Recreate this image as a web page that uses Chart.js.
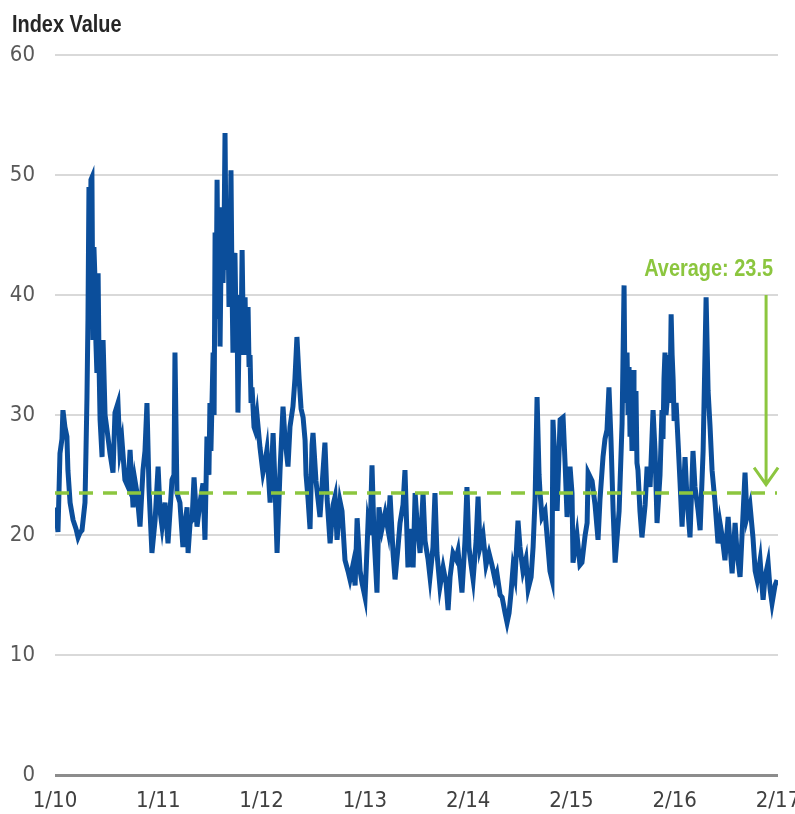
<!DOCTYPE html>
<html>
<head>
<meta charset="utf-8">
<script src="https://cdn.jsdelivr.net/npm/chart.js@4.4.1/dist/chart.umd.min.js"></script>
<style>
    html, body { margin: 0; padding: 0; background: #ffffff; }
    #box { width: 795px; height: 814px; }
</style>
</head>
<body>
<div id="box"><canvas id="indexChart"></canvas></div>
<script>
// weeks since the start of 2010
var weeks = [
    0, 1.0, 1.5, 2.5, 3.5, 4.0, 5.0, 6.0, 6.5, 7.6, 9.1, 10.6, 11.6, 12.6, 13.6, 15.1, 15.6, 16.1, 16.6, 17.1,
    17.6, 18.1, 18.6, 19.1, 19.6, 20.1, 20.6, 21.1, 21.7, 22.2, 22.7, 23.7, 24.2, 25.2, 26.2, 27.7, 29.2, 30.2, 31.7, 32.7,
    33.7, 35.2, 36.8, 37.8, 39.3, 40.3, 41.3, 42.8, 44.3, 45.3, 46.3, 47.3, 47.8, 48.8, 50.4, 51.9, 52.9, 53.9, 55.4, 56.9,
    58.9, 59.9, 60.4, 61.4, 62.9, 64.4, 65.5, 66.5, 67.0, 68.0, 69.0, 70.0, 71.5, 73.0, 74.5, 75.5,
    76.5, 77.5, 78.0, 78.5, 79.6, 80.1, 80.6, 81.1, 81.6, 82.1, 82.6, 83.1, 83.6, 84.1, 84.6, 85.1, 85.6, 86.1, 86.6, 87.1,
    87.6, 88.1, 88.6, 89.1, 89.6, 90.1, 90.6, 91.1, 91.6, 92.1, 92.6, 93.1, 93.6, 94.2, 94.7, 95.2, 95.7, 96.2, 96.7, 97.2,
    97.7, 98.2, 98.7, 99.2, 100.2, 100.7, 101.7, 103.2, 104.7, 105.7, 106.7,
    108.3, 109.8, 110.8, 111.8, 113.3, 114.8, 115.8, 117.3, 118.3, 119.8, 120.8, 121.8, 122.9, 123.9, 124.9, 125.9, 126.4, 127.4, 128.4, 129.4,
    129.9, 131.4, 132.4, 133.4, 134.4, 135.9, 137.0, 138.5, 140.0, 141.0, 142.0, 143.5, 144.5, 146.0, 147.5, 148.5, 150.0, 151.1, 152.1, 153.6,
    154.6, 156.1, 157.6, 158.6, 159.6, 160.6, 162.1, 163.1, 164.6, 166.2, 167.7, 168.7, 170.2, 171.2, 172.7, 173.7, 175.2, 176.2, 177.7, 178.7,
    180.3, 181.3, 182.3, 183.8, 185.3, 186.3, 187.8, 188.8, 190.3, 191.3, 192.3, 193.8, 195.4, 196.9, 197.9, 198.9, 200.4, 201.9, 202.9, 203.9,
    204.9, 206.4, 207.4, 208.4, 209.5, 210.5, 212.0, 213.0, 214.0, 215.5, 217.0, 218.5, 220.0, 221.5, 222.5, 224.1, 225.1, 226.6, 227.6, 228.6,
    229.6, 230.6, 231.6, 233.1, 234.1, 235.6, 237.1, 238.2, 239.7, 240.7, 241.7, 242.7, 243.7, 244.2, 245.2, 246.7, 248.2, 249.2, 250.2, 250.7,
    252.3, 252.8, 254.3, 255.8, 256.8, 257.8, 259.3, 260.3, 260.8, 262.8, 264.3, 265.3, 266.9, 267.9, 268.4, 270.4, 271.9, 273.4, 274.4, 275.9,
    276.9, 277.9, 278.9, 279.9, 281.0, 282.0, 284.0, 285.5, 286.5, 287.0, 287.5, 288.0, 288.5, 289.0, 289.5, 290.0, 290.5, 291.0, 291.5, 292.0,
    292.5, 293.0, 293.5, 294.5, 295.5, 297.1, 298.1, 299.6,
    301.1, 302.1, 303.1, 304.6, 305.6, 306.1, 306.6, 307.1, 307.6, 308.1, 308.6, 309.1, 309.6, 310.2, 310.7, 311.2, 311.7, 312.2, 312.7, 313.7,
    314.7, 315.7, 317.2, 318.2, 319.7, 321.2, 322.2, 323.8,
    324.8, 326.3, 327.8, 328.8, 329.8, 330.8, 332.3, 333.8, 334.8, 335.8, 337.3, 338.9, 339.9, 340.9, 342.4, 343.4, 344.9, 345.9, 347.4, 348.4,
    349.9, 351.4, 352.5, 353.5, 355.0, 356.5, 357.5, 359.0, 360.0, 361.0, 362.5, 363.5
];
var indexValues = [
    22.3, 21, 20.25, 26.8, 28, 30.4, 29, 28.2, 25.4, 22.7, 21.25, 20.5, 19.8, 20.2, 20.4, 22.7, 27, 31.5, 38, 49,
    42, 49.6, 49.8, 36.25, 44, 41.5, 36, 33.5, 41.8, 34, 29.6, 26.5, 36.25, 30, 28.75, 26.8, 25.2, 30.2, 31, 27,
    27.9, 24.6, 24, 27.1, 22.3, 24.5, 23.5, 20.7, 25.4, 27, 31, 24, 22.1, 18.5, 21.25, 25.7, 22, 20.7, 22.7, 19.3,
    24.6, 25, 35.2, 23.5, 22.7, 19, 21, 22.3, 18.5, 21, 21.25, 24.8, 20.7, 22.7, 24.3, 19.6,
    28.2, 25, 31, 27, 35.2, 30, 45.2, 38, 49.6, 40, 46, 35.7, 43, 47.3, 41, 45, 53.5, 44, 42.1, 46.25,
    39, 44, 50.4, 41, 35.2, 43, 43.5, 38, 40, 30.2, 36, 38, 35, 43.75, 37.9, 35, 39.8, 35, 38, 39,
    34, 35, 31, 32.3, 29, 28.75, 30, 27.3, 25.2, 26, 27.1,
    22.7, 28.5, 24, 18.5, 25.4, 30.7, 28, 25.7, 29, 30.7, 33, 36.5, 33, 30.5, 29.8, 27.9, 25, 23, 20.5, 27.5,
    28.5, 24.5, 23, 21.5, 24, 27.7, 23, 19.3, 22.5, 23.2, 19.6, 22.8, 22, 17.9, 17, 16.3, 17.5, 15.8, 21.4, 17,
    16, 14.8, 21, 20, 25.8, 20, 15.2, 22.3, 20.5, 21.8, 20.4, 23.3, 18.5, 16.3, 19, 21, 22.5, 25.4, 17.3, 20.5,
    17.3, 23.5, 21, 18.5, 23.5, 19.5, 18, 16.5, 19, 23.5, 18.5, 15.7, 17.3, 16, 13.75, 16.5, 18.5, 18, 18.7, 17,
    15.2, 19.5, 24, 19, 17.5, 16.3, 19.5, 23.2, 19, 20, 17.5, 18.5, 17.5, 16.3, 16.8, 15, 14.8, 13.5, 12.7, 13.5,
    15.2, 17.3, 16.5, 21.2, 19, 17, 18, 15.5, 16.5, 19, 23, 31.5, 25, 23.5, 21.5, 22, 19, 17, 16.3, 29.6,
    24, 22, 29.6, 29.8, 26, 21.5, 25.7, 23.5, 17.7, 20, 17.5, 17.7, 20, 21, 25.2, 24.5, 22.5, 19.6, 23, 26.5,
    28, 28.75, 32.3, 28, 22, 17.7, 22, 29.3, 40.8, 31, 33, 35.2, 30, 34, 28.2, 31, 27, 33.75, 28, 30,
    32, 26, 25.4, 22, 19.8, 22.5, 25.7, 24,
    30.4, 27, 21, 25, 30.4, 28, 33, 35.2, 30, 31, 35, 34, 31, 38.4, 35, 33, 29.5, 30.2, 31, 27.7,
    24.3, 20.7, 26.5, 23, 19.8, 27, 24, 22,
    20.4, 27, 39.8, 32, 29, 25.4, 22.7, 19.3, 21, 20, 17.9, 21.5, 19, 16.8, 21, 18.5, 16.5, 20, 25.2, 21.5,
    22.5, 19.8, 17, 16.25, 17.9, 14.6, 16.5, 17.7, 15.5, 14.3, 15.8, 16.25
];
var tickWeeks = [0, 52, 104, 156, 208, 260, 312, 364];
var tickLabels = ["1/10", "1/11", "1/12", "1/13", "2/14", "2/15", "2/16", "2/17"];
var yTicks = [0, 10, 20, 30, 40, 50, 60];
var averageValue = 23.5;
var averageText = "Average: 23.5";

var blue = "#0b4e9b";
var green = "#8cc63f";
var tickFont = "'DejaVu Sans Condensed', 'Liberation Sans', sans-serif";

function BuildPoints() {
    var points = [];
    for (let i = 0; i < weeks.length; i++) {
        points.push({ x: weeks[i], y: indexValues[i] });
    }
    return points;
}

// narrow looking bold text: squeeze Liberation Sans sideways
function NarrowText(ctx, text, x, y, align, color) {
    ctx.save();
    ctx.font = "bold 24px 'Liberation Sans', Arial, sans-serif";
    ctx.fillStyle = color;
    ctx.textAlign = align;
    ctx.textBaseline = "alphabetic";
    ctx.translate(x, y);
    ctx.scale(0.83, 1);
    ctx.fillText(text, 0, 0);
    ctx.restore();
}

// title, arrow and label drawn on top of the chart
const extras = {
    id: "extras",
    afterDatasetsDraw(chart) {
        const ctx = chart.ctx;
        const xs = chart.scales.x;
        const ys = chart.scales.y;
        NarrowText(ctx, "Index Value", 12, 32, "left", "#262626");

        var ax = xs.getPixelForValue(358);
        var top = ys.getPixelForValue(40);
        var tip = ys.getPixelForValue(24.2);
        ctx.save();
        ctx.strokeStyle = green;
        ctx.lineWidth = 3;
        ctx.beginPath();
        ctx.moveTo(ax, top);
        ctx.lineTo(ax, tip);
        ctx.moveTo(ax - 12, tip - 17);
        ctx.lineTo(ax, tip);
        ctx.lineTo(ax + 12, tip - 17);
        ctx.stroke();
        ctx.restore();

        NarrowText(ctx, averageText, xs.getPixelForValue(361.5), ys.getPixelForValue(41.6), "right", green);
    }
};

const config = {
    type: "line",
    data: {
        datasets: [{
            label: "Average",
            data: [{ x: 0, y: averageValue }, { x: 363.5, y: averageValue }],
            borderColor: green,
            borderWidth: 3.5,
            borderDash: [14, 10],
            pointRadius: 0
        }, {
            label: "Index Value",
            data: BuildPoints(),
            borderColor: blue,
            borderWidth: 5,
            pointRadius: 0,
            tension: 0
        }]
    },
    options: {
        responsive: true,
        maintainAspectRatio: false,
        animation: false,
        layout: { padding: { left: 0, right: 17, top: 55, bottom: 0 } },
        plugins: {
            legend: { display: false },
            tooltip: { enabled: false }
        },
        scales: {
            x: {
                type: "linear",
                min: 0,
                max: 364,
                afterBuildTicks: function (scale) {
                    scale.ticks = tickWeeks.map(v => ({ value: v }));
                },
                afterFit: function (scale) {
                    scale.height = 39;
                    scale.paddingLeft = 0;
                    scale.paddingRight = 0;
                },
                ticks: {
                    autoSkip: false,
                    maxRotation: 0,
                    padding: 13,
                    color: "#404040",
                    font: { family: tickFont, size: 22 },
                    callback: function (value) {
                        return tickLabels[tickWeeks.indexOf(value)];
                    }
                },
                grid: { display: false, drawTicks: false },
                border: { display: false }
            },
            y: {
                min: 0,
                max: 60,
                afterBuildTicks: function (scale) {
                    scale.ticks = yTicks.map(v => ({ value: v }));
                },
                afterFit: function (scale) {
                    scale.width = 55;
                    scale.paddingTop = 0;
                    scale.paddingBottom = 0;
                },
                ticks: {
                    padding: 20,
                    color: "#595959",
                    font: { family: tickFont, size: 22 }
                },
                grid: {
                    drawTicks: false,
                    color: c => c.tick && c.tick.value === 0 ? "#8c8c8c" : "#d9d9d9",
                    lineWidth: c => c.tick && c.tick.value === 0 ? 3 : 2
                },
                border: { display: false }
            }
        }
    },
    plugins: [extras]
};

new Chart(document.getElementById("indexChart"), config);
</script>
</body>
</html>
